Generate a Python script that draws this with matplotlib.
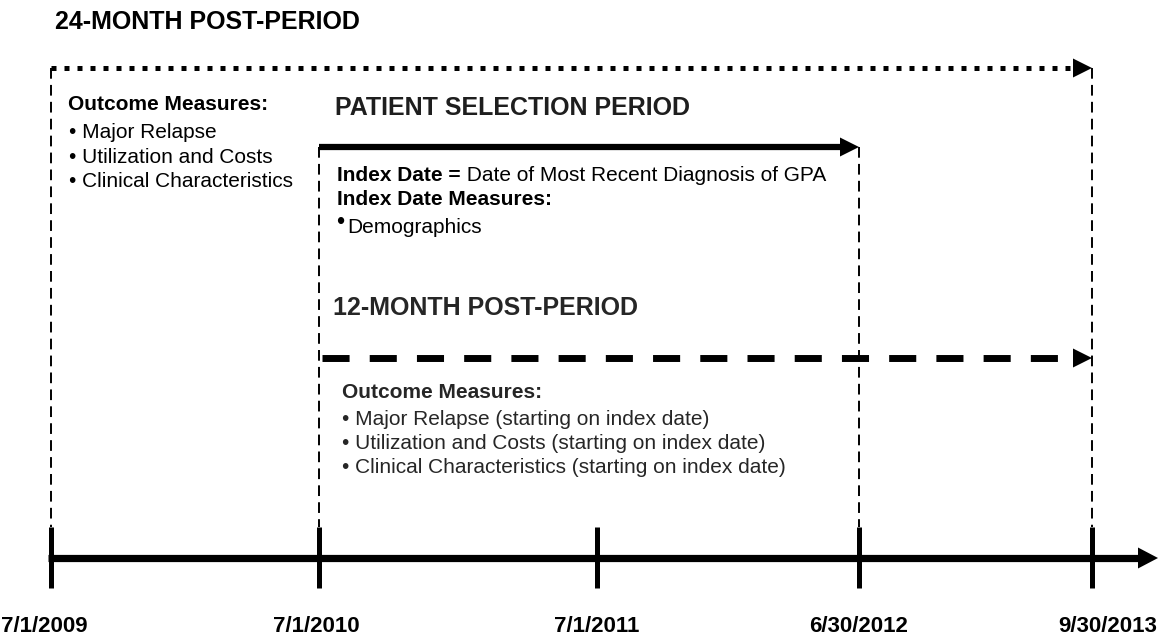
import matplotlib.pyplot as plt

plt.rcParams['font.family'] = ['Liberation Sans', 'DejaVu Sans']

# dates on the time line
dates = ["7/1/2009", "7/1/2010", "7/1/2011", "6/30/2012", "9/30/2013"]

# period headings and their start / end date (index into dates)
period_names = ["24-MONTH POST-PERIOD", "PATIENT SELECTION PERIOD", "12-MONTH POST-PERIOD"]
period_start = [0, 1, 1]
period_end = [4, 3, 4]

# box texts
outcomes_24 = ["Major Relapse", "Utilization and Costs", "Clinical Characteristics"]
outcomes_12 = ["Major Relapse (starting on index date)",
               "Utilization and Costs (starting on index date)",
               "Clinical Characteristics (starting on index date)"]
index_def = ["Index Date =", " Date of Most Recent Diagnosis of GPA"]
index_measures = ["Demographics"]

# layout (pixel coordinates, y downwards)
tick_x = [51, 319, 597, 859, 1092]
label_dx = [-7, -3, 0, 0, 16]
line_y = 558
tick_top, tick_bot = 527, 588
period_y = [68, 147, 358]
period_style = [dict(lw=3.6, dashes=(1.0, 1.6)),
                dict(lw=4.5),
                dict(lw=5.0, dashes=(3.9, 2.9))]
head_len, head_h = 19, 19

fig = plt.figure(figsize=(11.59, 6.44), dpi=100)
ax = fig.add_axes([0, 0, 1, 1])
ax.set_xlim(0, 1159)
ax.set_ylim(644, 0)
ax.axis('off')


def arrow_head(x_tip, y, ln=head_len, h=head_h):
    ax.fill([x_tip - ln, x_tip, x_tip - ln], [y - h / 2, y, y + h / 2],
            color='black', lw=0, zorder=4)


# time line with ticks
ax.plot([48, 1159 - head_len], [line_y, line_y], color='black', lw=5.2,
        solid_capstyle='butt', zorder=3)
arrow_head(1158, line_y, 20, 21)
for i, d in enumerate(dates):
    ax.plot([tick_x[i], tick_x[i]], [tick_top, tick_bot], color='black', lw=3.6,
            solid_capstyle='butt', zorder=3)
    ax.text(tick_x[i] + label_dx[i], 632, d, ha='center', va='baseline',
            fontsize=16, fontweight='bold', color='black')

# period arrows and thin dashed verticals (each date drawn once, from the highest period)
done = set()
for k in range(len(period_names)):
    x0 = tick_x[period_start[k]]
    x1 = tick_x[period_end[k]]
    y = period_y[k]
    if k == 2:
        x0 += 3
    ax.plot([x0, x1 - head_len + 2], [y, y], color='black',
            solid_capstyle='butt', dash_capstyle='butt', zorder=3, **period_style[k])
    arrow_head(x1, y)
    for idx in (period_start[k], period_end[k]):
        if idx in done:
            continue
        done.add(idx)
        xv = tick_x[idx]
        ax.plot([xv, xv], [y, tick_top], color='black', lw=1.4,
                dashes=(5.5, 3.2), dash_capstyle='butt', zorder=2)

# headings
ax.text(55, 29, period_names[0], fontsize=18, fontweight='bold', va='baseline')
ax.text(335, 115, period_names[1], fontsize=18, fontweight='bold', va='baseline',
        color='#1e1e1e')
ax.text(333, 315, period_names[2], fontsize=18, fontweight='bold', va='baseline',
        color='#262626')

# 24-month outcome list
ax.text(68, 110, "Outcome Measures:", fontsize=15, fontweight='bold', va='baseline')
for j, s in enumerate(outcomes_24):
    ax.text(69, 138 + 24.5 * j, "\u2022 " + s, fontsize=15, va='baseline')

# index date block
t1 = ax.text(337, 181, index_def[0], fontsize=15, fontweight='bold', va='baseline')
ax.annotate(index_def[1], xy=(1, 0), xycoords=t1, va='bottom', ha='left',
            fontsize=15)
ax.text(337, 205, "Index Date Measures:", fontsize=15, fontweight='bold', va='baseline')
for j, s in enumerate(index_measures):
    ax.text(336, 229 + 24 * j, "\u2022", fontsize=17, va='baseline')
    ax.text(347, 233 + 24 * j, s, fontsize=15, va='baseline')

# 12-month outcome list
ax.text(342, 398, "Outcome Measures:", fontsize=15, fontweight='bold', va='baseline',
        color='#262626')
for j, s in enumerate(outcomes_12):
    ax.text(342, 425 + 24 * j, "\u2022 " + s, fontsize=15, va='baseline',
            color='#262626')

fig.savefig('out.png', dpi=100)
